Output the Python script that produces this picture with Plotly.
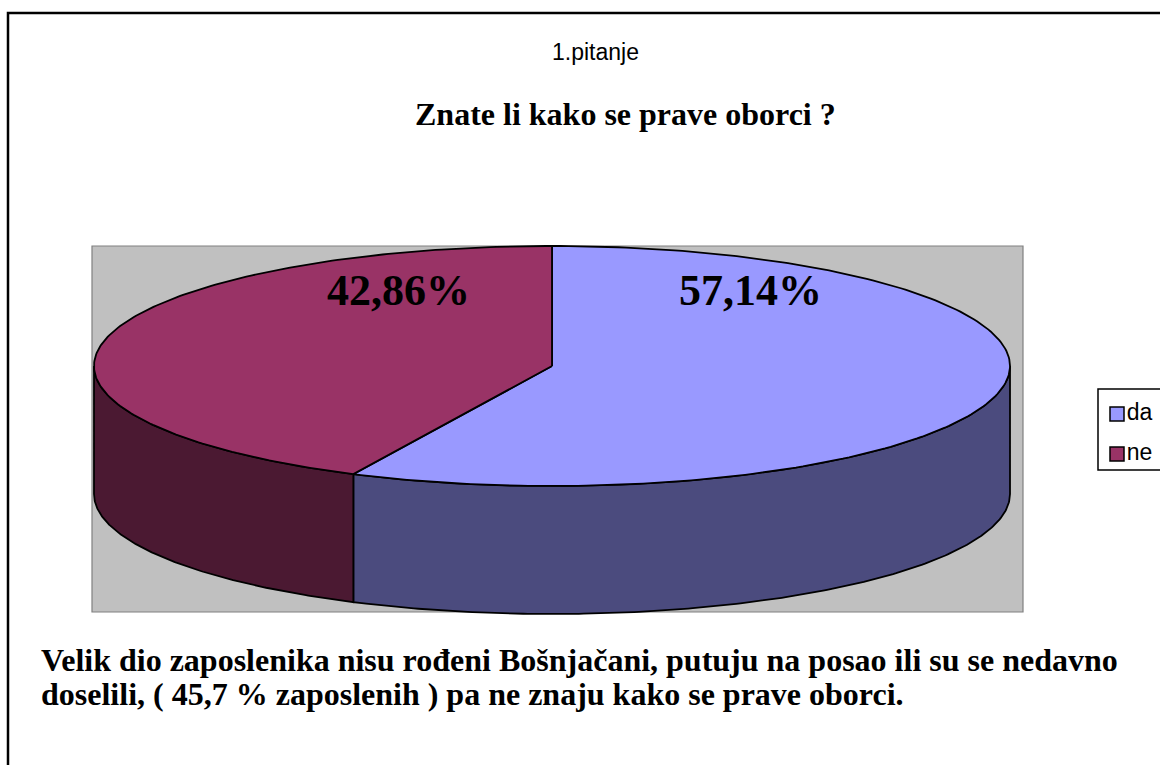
import numpy as np
import plotly.graph_objects as go

# ---------------- data ----------------
labels = ["da", "ne"]
values = [57.14, 42.86]
value_text = ["57,14%", "42,86%"]
top_colors = ["#9999FF", "#993366"]
side_colors = ["#4B4B7E", "#4B1932"]
title_small = "1.pitanje"
title_main = "Znate li kako se prave oborci ?"
note_lines = [
    "Velik dio zaposlenika nisu rođeni Bošnjačani, putuju na posao ili su se nedavno",
    "doselili, ( 45,7 % zaposlenih ) pa ne znaju kako se prave oborci.",
]

# ---------------- geometry (style) ----------------
W, H = 1160, 765
CX, CY, RX, RY, DEPTH = 552, 366, 458, 120, 128
SERIF = "Liberation Serif, Times New Roman, serif"
SANS = "Liberation Sans, Arial, sans-serif"


def pt(theta_deg, dy=0.0):
    t = np.radians(theta_deg)
    return CX + RX * np.cos(t), CY - RY * np.sin(t) + dy


def arc(a0, a1, dy=0.0, n=200):
    th = np.linspace(a0, a1, n)
    xs, ys = pt(th, dy)
    return list(xs), list(ys)


# slice angle ranges: start at 12 o'clock, go clockwise
total = sum(values)
ranges = []
start = 90.0
for v in values:
    sweep = 360.0 * v / total
    ranges.append((start - sweep, start))
    start -= sweep

fig = go.Figure()

# side walls (only front half, sin<0)
for (a0, a1), col in zip(ranges, side_colors):
    for k in range(-2, 2):
        lo = max(a0, 180 + 360 * k)
        hi = min(a1, 360 + 360 * k)
        if hi - lo > 0.01:
            xt, yt = arc(lo, hi)
            xb, yb = arc(hi, lo, DEPTH)
            fig.add_trace(go.Scatter(
                x=xt + xb + [xt[0]], y=yt + yb + [yt[0]],
                mode="lines", fill="toself", fillcolor=col,
                line=dict(color="black", width=1.8),
                hoverinfo="skip", showlegend=False))

# top faces
for (a0, a1), col, lab in zip(ranges, top_colors, labels):
    xa, ya = arc(a0, a1)
    fig.add_trace(go.Scatter(
        x=[CX] + xa + [CX], y=[CY] + ya + [CY],
        mode="lines", fill="toself", fillcolor=col,
        line=dict(color="black", width=1.8),
        name=lab, hoverinfo="name", showlegend=False))

# percentage labels
label_pos = [(750, 290), (398, 290)]
for (lx, ly), txt in zip(label_pos, value_text):
    fig.add_annotation(x=lx, y=ly, text=f"<b>{txt}</b>", showarrow=False,
                       font=dict(family=SERIF, size=44, color="black"),
                       xanchor="center", yanchor="middle")

# legend (manual)
leg_y = [414, 454]
fig.add_trace(go.Scatter(
    x=[1117] * len(labels), y=leg_y, mode="markers+text",
    marker=dict(symbol="square", size=14, color=top_colors,
                line=dict(color="black", width=1.5)),
    text=labels, textposition="middle right",
    textfont=dict(family=SANS, size=23, color="black"),
    hoverinfo="skip", showlegend=False))

shapes = [
    # plot area
    dict(type="rect", xref="x", yref="y", x0=92, x1=1023, y0=246, y1=612,
         fillcolor="#C0C0C0", line=dict(color="#808080", width=1.2), layer="below"),
    # legend box
    dict(type="rect", xref="x", yref="y", x0=1098, x1=1175, y0=389, y1=470,
         fillcolor="white", line=dict(color="black", width=1.5), layer="below"),
    # outer frame
    dict(type="rect", xref="x", yref="y", x0=8, x1=1175, y0=13, y1=790,
         fillcolor="rgba(0,0,0,0)", line=dict(color="black", width=2.5), layer="above"),
]

annotations = [
    dict(x=595, y=52, text=title_small, showarrow=False,
         font=dict(family=SANS, size=23, color="black"), xanchor="center", yanchor="middle"),
    dict(x=625, y=114, text=f"<b>{title_main}</b>", showarrow=False,
         font=dict(family=SERIF, size=32, color="black"), xanchor="center", yanchor="middle"),
    dict(x=39, y=660, text=f"<b>{note_lines[0]}</b>", showarrow=False,
         font=dict(family=SERIF, size=32, color="black"), xanchor="left", yanchor="middle"),
    dict(x=39, y=694, text=f"<b>{note_lines[1]}</b>", showarrow=False,
         font=dict(family=SERIF, size=32, color="black"), xanchor="left", yanchor="middle"),
]
for a in annotations:
    fig.add_annotation(**a)

fig.update_layout(
    width=W, height=H,
    margin=dict(l=0, r=0, t=0, b=0),
    paper_bgcolor="white", plot_bgcolor="white",
    xaxis=dict(range=[0, W], visible=False, fixedrange=True),
    yaxis=dict(range=[H, 0], visible=False, fixedrange=True),
    shapes=shapes,
    showlegend=False,
)

fig.write_html("out.html", post_script="document.body.style.margin='0';",
               config={"displayModeBar": False})
